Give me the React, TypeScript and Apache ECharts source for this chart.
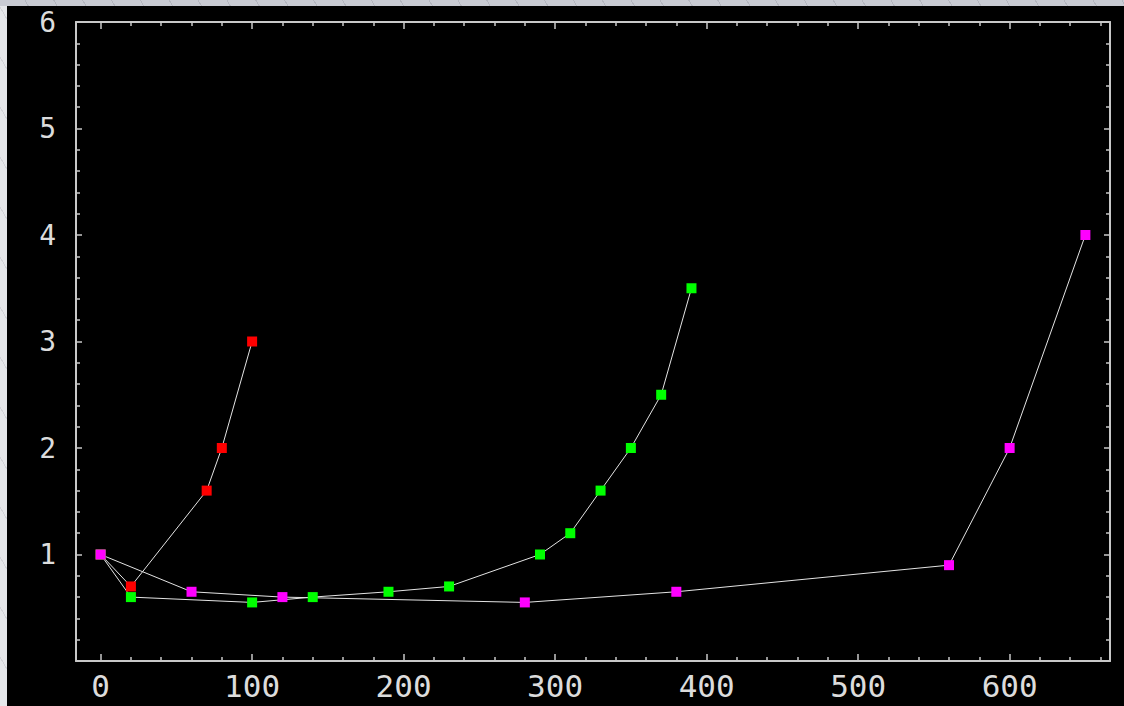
import React, { useEffect, useRef } from "react";
import * as echarts from "echarts";

const redX = [0, 20, 70, 80, 100];
const redY = [1, 0.7, 1.6, 2.0, 3.0];
const greenX = [0, 20, 100, 140, 190, 230, 290, 310, 330, 350, 370, 390];
const greenY = [1, 0.6, 0.55, 0.6, 0.65, 0.7, 1.0, 1.2, 1.6, 2.0, 2.5, 3.5];
const magentaX = [0, 60, 120, 280, 380, 560, 600, 650];
const magentaY = [1, 0.65, 0.6, 0.55, 0.65, 0.9, 2.0, 4.0];
const xTickLabels = [0, 100, 200, 300, 400, 500, 600];
const xMinorTicks = [20, 40, 60, 80, 120, 140, 160, 180, 220, 240, 260, 280, 320, 340, 360, 380, 420, 440, 460, 480, 520, 540, 560, 580, 620, 640, 660];
const X_MIN = -16.25;
const X_MAX = 666.25;
const Y_MIN = 0;
const Y_MAX = 6;

const AXIS_COLOR = "#c8c8c8";
const LABEL_COLOR = "#dcdcdc";
const FONT = "DejaVu Sans Mono";

function pairs(xs: number[], ys: number[]) {
  return xs.map((x, i) => [x, ys[i]]);
}

export default function App() {
  const ref = useRef<HTMLDivElement>(null);
  useEffect(() => {
    document.body.style.margin = "0";
    const chart = echarts.init(ref.current!, undefined, { renderer: "svg" });
    const baseX = {
      type: "value" as const,
      min: X_MIN,
      max: X_MAX,
      splitLine: { show: false },
    };
    const baseY = {
      type: "value" as const,
      min: Y_MIN,
      max: Y_MAX,
      interval: 1,
      splitLine: { show: false },
    };
    const lineSeries = (name: string, xs: number[], ys: number[], color: string) => ({
      name,
      type: "line" as const,
      data: pairs(xs, ys),
      symbol: "rect",
      symbolSize: 10,
      showAllSymbol: true,
      lineStyle: { color: "#e4e4e4", width: 1 },
      itemStyle: { color, borderWidth: 0 },
      emphasis: { disabled: true },
      xAxisIndex: 0,
      yAxisIndex: 0,
      z: 3,
    });
    const line = (show: boolean) => ({
      show,
      onZero: false,
      lineStyle: { color: AXIS_COLOR, width: 2 },
    });
    chart.setOption({
      animation: false,
      backgroundColor: "#000000",
      grid: { left: 69, top: 16, right: 14, bottom: 45 },
      xAxis: [
        {
          ...baseX,
          position: "bottom",
          axisLine: line(true),
          axisTick: {
            show: true,
            inside: true,
            length: 7,
            customValues: xTickLabels,
            lineStyle: { color: AXIS_COLOR, width: 1.5 },
          },
          axisLabel: {
            show: true,
            customValues: xTickLabels,
            color: LABEL_COLOR,
            fontFamily: FONT,
            fontSize: 31,
            margin: 9,
          },
        },
        {
          ...baseX,
          position: "bottom",
          axisLine: line(false),
          axisTick: {
            show: true,
            inside: true,
            length: 4,
            customValues: xMinorTicks,
            lineStyle: { color: AXIS_COLOR, width: 1.5 },
          },
          axisLabel: { show: false },
        },
        {
          ...baseX,
          position: "top",
          axisLine: line(true),
          axisTick: {
            show: true,
            inside: true,
            length: 7,
            customValues: xTickLabels,
            lineStyle: { color: AXIS_COLOR, width: 1.5 },
          },
          axisLabel: { show: false },
        },
        {
          ...baseX,
          position: "top",
          axisLine: line(false),
          axisTick: {
            show: true,
            inside: true,
            length: 4,
            customValues: xMinorTicks,
            lineStyle: { color: AXIS_COLOR, width: 1.5 },
          },
          axisLabel: { show: false },
        },
      ],
      yAxis: [
        {
          ...baseY,
          position: "left",
          axisLine: line(true),
          axisTick: { show: true, inside: true, length: 6, lineStyle: { color: AXIS_COLOR, width: 1.5 } },
          minorTick: { show: true, splitNumber: 5, length: 4, lineStyle: { color: AXIS_COLOR, width: 1.5 } },
          axisLabel: {
            show: true,
            showMinLabel: false,
            color: LABEL_COLOR,
            fontFamily: FONT,
            fontSize: 28,
            margin: 20,
          },
        },
        {
          ...baseY,
          position: "right",
          axisLine: line(true),
          axisTick: { show: true, inside: true, length: 6, lineStyle: { color: AXIS_COLOR, width: 1.5 } },
          minorTick: { show: true, splitNumber: 5, length: 4, lineStyle: { color: AXIS_COLOR, width: 1.5 } },
          axisLabel: { show: false },
        },
      ],
      series: [
        lineSeries("red", redX, redY, "#ff0000"),
        lineSeries("green", greenX, greenY, "#00ff00"),
        lineSeries("magenta", magentaX, magentaY, "#ff00ff"),
      ],
    });
    return () => chart.dispose();
  }, []);

  return (
    <div
      style={{
        position: "relative",
        width: 1124,
        height: 706,
        overflow: "hidden",
        background:
          "repeating-linear-gradient(60deg, #e6e7ea 0px, #e6e7ea 24px, #d2d3d8 24px, #d2d3d8 25px)",
      }}
    >
      <div
        style={{
          position: "absolute",
          left: 0,
          top: 0,
          width: 1124,
          height: 6,
          background:
            "repeating-linear-gradient(60deg, #c9cbd3 0px, #c9cbd3 24px, #b4b6bf 24px, #b4b6bf 25px)",
        }}
      />
      <div
        ref={ref}
        style={{ position: "absolute", left: 7, top: 6, width: 1117, height: 700 }}
      />
    </div>
  );
}
